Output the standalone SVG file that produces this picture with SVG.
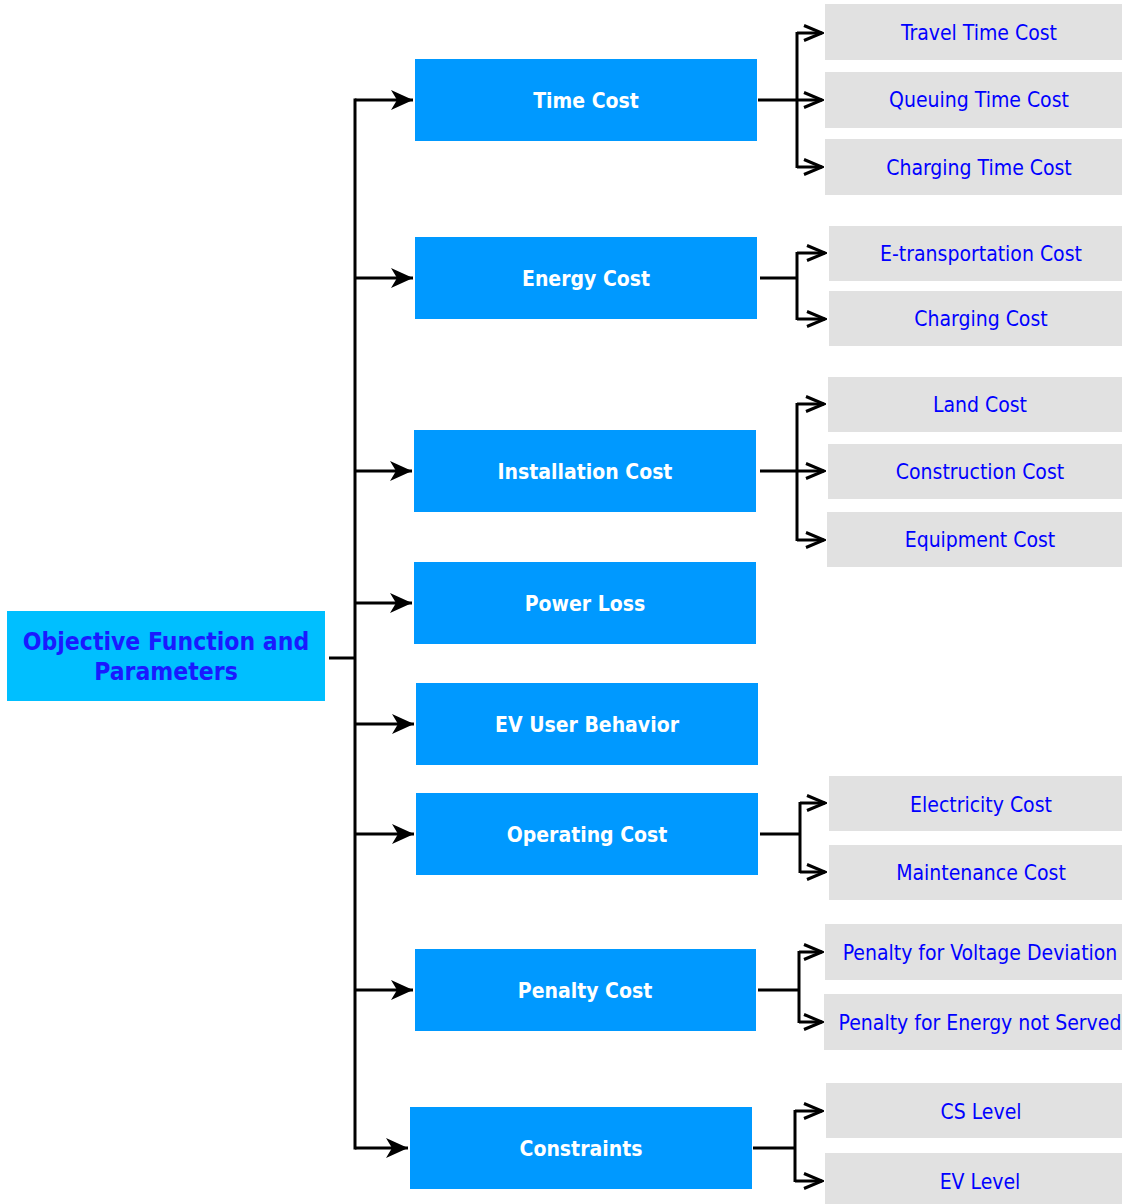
<svg xmlns="http://www.w3.org/2000/svg" width="1122" height="1204" viewBox="0 0 1122 1204">
  <defs>
    <style>
      .root rect { fill: #00BFFF; }
      .root text { fill: #1A1AFF; font: bold 24.5px 'DejaVu Sans Condensed', 'DejaVu Sans', sans-serif; text-anchor: middle; }
      .mid rect { fill: #0099FF; }
      .mid text { fill: #FFFFFF; font: bold 21px 'DejaVu Sans Condensed', 'DejaVu Sans', sans-serif; text-anchor: middle; }
      .leaf rect { fill: #E1E1E1; }
      .leaf text { fill: #0000FF; font: 21px 'DejaVu Sans Condensed', 'DejaVu Sans', sans-serif; text-anchor: middle; }
      .wire { fill: none; stroke: #000; stroke-width: 3; }
      .to-mid { marker-end: url(#solid); }
      .to-leaf { marker-end: url(#open); }
    </style>
    <marker id="solid" viewBox="0 0 22 20" refX="22" refY="10" markerWidth="22" markerHeight="20" markerUnits="userSpaceOnUse" orient="auto">
      <path d="M0,0 L22,10 L0,20 L6,10 Z" fill="#000"/>
    </marker>
    <marker id="open" viewBox="0 0 22 20" refX="20" refY="10" markerWidth="22" markerHeight="20" markerUnits="userSpaceOnUse" orient="auto">
      <path d="M2,2.5 L20,10 L2,17.5" fill="none" stroke="#000" stroke-width="3"/>
    </marker>
  </defs>

  <!-- trunk connectors -->
  <g id="connectors">
    <path class="wire" d="M329,658 H355"/>
    <path class="wire" d="M355,98.5 V1149.5"/>
    <path class="wire to-mid" d="M355,100 H413"/>
    <path class="wire to-mid" d="M355,278 H413"/>
    <path class="wire to-mid" d="M355,471 H412"/>
    <path class="wire to-mid" d="M355,603 H412"/>
    <path class="wire to-mid" d="M355,724 H414"/>
    <path class="wire to-mid" d="M355,834 H414"/>
    <path class="wire to-mid" d="M355,990 H413"/>
    <path class="wire to-mid" d="M355,1148 H408"/>

    <!-- Time Cost branch -->
    <path class="wire" d="M758,100 H797"/>
    <path class="wire" d="M797,32 V168"/>
    <path class="wire to-leaf" d="M797,33 H822"/>
    <path class="wire to-leaf" d="M797,100 H822"/>
    <path class="wire to-leaf" d="M797,167 H822"/>

    <!-- Energy Cost branch -->
    <path class="wire" d="M760,278 H797"/>
    <path class="wire" d="M797,252 V320"/>
    <path class="wire to-leaf" d="M797,253 H825"/>
    <path class="wire to-leaf" d="M797,319 H825"/>

    <!-- Installation Cost branch -->
    <path class="wire" d="M760,471 H797"/>
    <path class="wire" d="M797,403 V541"/>
    <path class="wire to-leaf" d="M797,404 H824"/>
    <path class="wire to-leaf" d="M797,471 H824"/>
    <path class="wire to-leaf" d="M797,540 H824"/>

    <!-- Operating Cost branch -->
    <path class="wire" d="M760,834 H800"/>
    <path class="wire" d="M800,802 V873"/>
    <path class="wire to-leaf" d="M800,803 H825"/>
    <path class="wire to-leaf" d="M800,872 H825"/>

    <!-- Penalty Cost branch -->
    <path class="wire" d="M758,990 H799"/>
    <path class="wire" d="M799,951 V1023"/>
    <path class="wire to-leaf" d="M799,952 H822"/>
    <path class="wire to-leaf" d="M799,1022 H822"/>

    <!-- Constraints branch -->
    <path class="wire" d="M753,1148 H795"/>
    <path class="wire" d="M795,1110 V1182"/>
    <path class="wire to-leaf" d="M795,1111 H822"/>
    <path class="wire to-leaf" d="M795,1181 H822"/>
  </g>

  <!-- root -->
  <g id="objective" class="root">
    <rect x="7" y="611" width="318" height="90"/>
    <text x="166" y="650">Objective Function and</text>
    <text x="166" y="680">Parameters</text>
  </g>

  <!-- cost categories -->
  <g id="time-cost" class="mid">
    <rect x="415" y="59" width="342" height="82"/>
    <text x="586" y="108">Time Cost</text>
  </g>
  <g id="energy-cost" class="mid">
    <rect x="415" y="237" width="342" height="82"/>
    <text x="586" y="286">Energy Cost</text>
  </g>
  <g id="installation-cost" class="mid">
    <rect x="414" y="430" width="342" height="82"/>
    <text x="585" y="479">Installation Cost</text>
  </g>
  <g id="power-loss" class="mid">
    <rect x="414" y="562" width="342" height="82"/>
    <text x="585" y="611">Power Loss</text>
  </g>
  <g id="ev-user-behavior" class="mid">
    <rect x="416" y="683" width="342" height="82"/>
    <text x="587" y="732">EV User Behavior</text>
  </g>
  <g id="operating-cost" class="mid">
    <rect x="416" y="793" width="342" height="82"/>
    <text x="587" y="842">Operating Cost</text>
  </g>
  <g id="penalty-cost" class="mid">
    <rect x="415" y="949" width="341" height="82"/>
    <text x="585" y="998">Penalty Cost</text>
  </g>
  <g id="constraints" class="mid">
    <rect x="410" y="1107" width="342" height="82"/>
    <text x="581" y="1156">Constraints</text>
  </g>

  <!-- detail items -->
  <g id="travel-time-cost" class="leaf">
    <rect x="825" y="4" width="297" height="56"/>
    <text x="979" y="40">Travel Time Cost</text>
  </g>
  <g id="queuing-time-cost" class="leaf">
    <rect x="825" y="72" width="297" height="56"/>
    <text x="979" y="107">Queuing Time Cost</text>
  </g>
  <g id="charging-time-cost" class="leaf">
    <rect x="825" y="139" width="297" height="56"/>
    <text x="979" y="175">Charging Time Cost</text>
  </g>
  <g id="e-transportation-cost" class="leaf">
    <rect x="829" y="226" width="293" height="55"/>
    <text x="981" y="261">E-transportation Cost</text>
  </g>
  <g id="charging-cost" class="leaf">
    <rect x="829" y="291" width="293" height="55"/>
    <text x="981" y="326">Charging Cost</text>
  </g>
  <g id="land-cost" class="leaf">
    <rect x="828" y="377" width="294" height="55"/>
    <text x="980" y="412">Land Cost</text>
  </g>
  <g id="construction-cost" class="leaf">
    <rect x="828" y="444" width="294" height="55"/>
    <text x="980" y="479">Construction Cost</text>
  </g>
  <g id="equipment-cost" class="leaf">
    <rect x="827" y="512" width="295" height="55"/>
    <text x="980" y="547">Equipment Cost</text>
  </g>
  <g id="electricity-cost" class="leaf">
    <rect x="829" y="776" width="293" height="55"/>
    <text x="981" y="812">Electricity Cost</text>
  </g>
  <g id="maintenance-cost" class="leaf">
    <rect x="829" y="845" width="293" height="55"/>
    <text x="981" y="880">Maintenance Cost</text>
  </g>
  <g id="voltage-deviation-penalty" class="leaf">
    <rect x="825" y="924" width="297" height="56"/>
    <text x="980" y="960">Penalty for Voltage Deviation</text>
  </g>
  <g id="energy-not-served-penalty" class="leaf">
    <rect x="824" y="994" width="298" height="56"/>
    <text x="980" y="1030">Penalty for Energy not Served</text>
  </g>
  <g id="cs-level" class="leaf">
    <rect x="826" y="1083" width="296" height="55"/>
    <text x="981" y="1119">CS Level</text>
  </g>
  <g id="ev-level" class="leaf">
    <rect x="825" y="1153" width="297" height="51"/>
    <text x="980" y="1189">EV Level</text>
  </g>
</svg>
